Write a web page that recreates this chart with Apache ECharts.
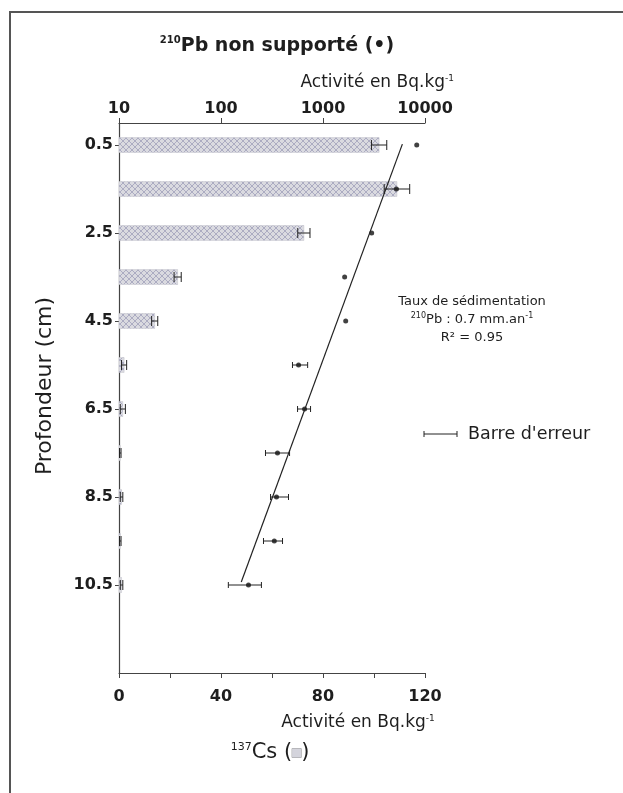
<!DOCTYPE html>
<html><head><meta charset="utf-8">
<script src="https://cdn.jsdelivr.net/npm/echarts@6/dist/echarts.min.js"></script>
<style>html,body{margin:0;padding:0;background:#fff}#c{width:623px;height:793px}</style>
</head><body><div id="c"></div>
<script>
// ---- data ----
const depths    = [0.5, 1.5, 2.5, 3.5, 4.5, 5.5, 6.5, 7.5, 8.5, 9.5, 10.5];
const csValues  = [102, 109, 72.5, 23, 14, 2, 1.5, 0.5, 1, 0.5, 1];
const csErrors  = [3, 5, 2.4, 1.4, 1.2, 1, 1, 0.3, 0.5, 0.3, 0.5];
const pbValues  = [8300, 5250, 3000, 1630, 1670, 576, 660, 358, 350, 333, 186];
const pbLow     = [null, null, null, null, null, 502, 563, 273, 306, 261, 118];
const pbHigh    = [null, null, null, null, null, 707, 755, 470, 459, 401, 249];
const regPb     = [6000, 158];
const regDepth  = [0.48, 10.43];
const depthTicks = [0.5, 2.5, 4.5, 6.5, 8.5, 10.5];
const csTicks    = [0, 40, 80, 120];
const pbTicks    = [10, 100, 1000, 10000];

const FONT = '"DejaVu Sans", "Liberation Sans", Arial, sans-serif';
const TXT = '#1e1e1e';

// hatch pattern
const pc = document.createElement('canvas');
pc.width = 6; pc.height = 6;
const g = pc.getContext('2d');
g.fillStyle = '#dadae0'; g.fillRect(0,0,6,6);
g.strokeStyle = '#a0a0ba'; g.lineWidth = 0.8;
g.beginPath(); g.moveTo(0,0); g.lineTo(6,6); g.moveTo(6,0); g.lineTo(0,6); g.stroke();
const pattern = {image: pc, repeat: 'repeat'};

const chart = echarts.init(document.getElementById('c'), null, {renderer: 'canvas'});

function makeErr(cap) {
  return function (params, api) {
    const y = api.value(2);
    const a = api.coord([api.value(0), y]);
    const b = api.coord([api.value(1), y]);
    const st = {stroke: '#222', lineWidth: 1};
    return {type: 'group', children: [
      {type:'line', shape:{x1:a[0], y1:a[1], x2:b[0], y2:b[1]}, style: st},
      {type:'line', shape:{x1:a[0], y1:a[1]-cap, x2:a[0], y2:a[1]+cap}, style: st},
      {type:'line', shape:{x1:b[0], y1:b[1]-cap, x2:b[0], y2:b[1]+cap}, style: st}
    ]};
  };
}

const axisLine = {show: true, onZero: false, lineStyle: {color: '#444', width: 1.2}};
const tickLabel = {fontFamily: FONT, fontSize: 16, color: TXT, fontWeight: 'bold'};

const pbErrData = [];
depths.forEach((d, i) => { if (pbLow[i] != null) pbErrData.push([pbLow[i], pbHigh[i], d]); });

const option = {
  animation: false,
  backgroundColor: '#fff',
  grid: {left: 119, right: 198, top: 123, bottom: 120, containLabel: false},
  xAxis: [
    {type: 'value', position: 'bottom', min: 0, max: 120, interval: 20,
     axisLine: axisLine, splitLine: {show: false},
     axisTick: {show: true, length: 5, lineStyle: {color: '#444'}},
     axisLabel: Object.assign({customValues: csTicks, margin: 16, formatter: v => String(v)}, tickLabel)},
    {type: 'log', logBase: 10, position: 'top', min: 10, max: 10000,
     axisLine: axisLine, splitLine: {show: false}, minorTick: {show: false},
     axisTick: {show: true, length: 5, lineStyle: {color: '#444'}},
     axisLabel: Object.assign({customValues: pbTicks, margin: 6, formatter: v => String(Math.round(v))}, tickLabel)}
  ],
  yAxis: {type: 'value', inverse: true, min: 0, max: 12.5,
    axisLine: axisLine, splitLine: {show: false},
    axisTick: {show: true, length: 4, customValues: depthTicks, lineStyle: {color: '#444'}},
    axisLabel: Object.assign({customValues: depthTicks, margin: 6, formatter: v => String(v)}, tickLabel)},
  series: [
    {type: 'custom', name: 'Cs', xAxisIndex: 0, yAxisIndex: 0,
     data: depths.map((d, i) => [csValues[i], d]),
     encode: {x: 0, y: 1},
     renderItem: function (params, api) {
       const p0 = api.coord([0, api.value(1)]);
       const p1 = api.coord([api.value(0), api.value(1)]);
       const h = api.size([0, 1])[1] * 0.34;
       return {type: 'rect', shape: {x: p0[0], y: p0[1] - h / 2, width: Math.max(p1[0] - p0[0], 1), height: h},
               style: {fill: pattern, stroke: '#c4c4cc', lineWidth: 0.5}};
     }},
    {type: 'custom', name: 'CsErr', xAxisIndex: 0, yAxisIndex: 0,
     data: depths.map((d, i) => [csValues[i] - csErrors[i], csValues[i] + csErrors[i], d]),
     encode: {x: [0, 1], y: 2}, renderItem: makeErr(5)},
    {type: 'custom', name: 'PbErr', xAxisIndex: 1, yAxisIndex: 0,
     data: pbErrData, encode: {x: [0, 1], y: 2}, renderItem: makeErr(3)},
    {type: 'line', name: 'Reg', xAxisIndex: 1, yAxisIndex: 0,
     data: regPb.map((v, i) => [v, regDepth[i]]), symbol: 'none',
     lineStyle: {color: '#222', width: 1.2}},
    {type: 'scatter', name: 'Pb', xAxisIndex: 1, yAxisIndex: 0,
     data: depths.map((d, i) => [pbValues[i], d]), symbol: 'circle', symbolSize: 5,
     itemStyle: {color: '#111'}}
  ],
  graphic: [
    {type: 'polyline', shape: {points: [[10, 793], [10, 12], [623, 12]]}, style: {stroke: '#555', lineWidth: 2, fill: null}},
    {type: 'text', x: 277, y: 46, style: {
      text: '{s|210}{m|Pb non supporté (•)}', align: 'center', verticalAlign: 'middle',
      rich: {s: {fontSize: 10, fontFamily: FONT, fontWeight: 'bold', fill: TXT, verticalAlign: 'top', lineHeight: 22},
             m: {fontSize: 19, fontFamily: FONT, fontWeight: 'bold', fill: TXT, lineHeight: 22}}}},
    {type: 'text', x: 454, y: 83, style: {
      text: '{m|Activité en Bq.kg}{s|-1}', align: 'right', verticalAlign: 'middle',
      rich: {s: {fontSize: 9, fontFamily: FONT, fill: TXT, verticalAlign: 'top', lineHeight: 18},
             m: {fontSize: 17, fontFamily: FONT, fill: TXT, lineHeight: 18}}}},
    {type: 'text', x: 358, y: 723, style: {
      text: '{m|Activité en Bq.kg}{s|-1}', align: 'center', verticalAlign: 'middle',
      rich: {s: {fontSize: 9, fontFamily: FONT, fill: TXT, verticalAlign: 'top', lineHeight: 18},
             m: {fontSize: 17, fontFamily: FONT, fill: TXT, lineHeight: 18}}}},
    {type: 'text', x: 270, y: 753, style: {
      text: '{s|137}{m|Cs (}{b|}{m|)}', align: 'center', verticalAlign: 'middle',
      rich: {s: {fontSize: 11, fontFamily: FONT, fill: TXT, verticalAlign: 'top', lineHeight: 23},
             m: {fontSize: 21, fontFamily: FONT, fill: TXT, lineHeight: 23},
             b: {width: 9, height: 9, backgroundColor: '#d4d4dc', borderColor: '#999', borderWidth: 0.5}}}},
    {type: 'text', x: 45, y: 386, rotation: Math.PI / 2, style: {
      text: 'Profondeur (cm)', align: 'center', verticalAlign: 'middle',
      font: '22px ' + FONT, fill: TXT}},
    {type: 'text', x: 472, y: 302, style: {text: 'Taux de sédimentation', align: 'center', verticalAlign: 'middle', font: '13px ' + FONT, fill: TXT}},
    {type: 'text', x: 472, y: 320, style: {
      text: '{s|210}{m|Pb : 0.7 mm.an}{s|-1}', align: 'center', verticalAlign: 'middle',
      rich: {s: {fontSize: 8, fontFamily: FONT, fill: TXT, verticalAlign: 'top', lineHeight: 16},
             m: {fontSize: 13, fontFamily: FONT, fill: TXT, lineHeight: 16}}}},
    {type: 'text', x: 472, y: 338, style: {text: 'R² = 0.95', align: 'center', verticalAlign: 'middle', font: '13px ' + FONT, fill: TXT}},
    {type: 'group', children: [
      {type: 'line', shape: {x1: 424, y1: 434, x2: 457, y2: 434}, style: {stroke: '#222', lineWidth: 1}},
      {type: 'line', shape: {x1: 424, y1: 431, x2: 424, y2: 437}, style: {stroke: '#222', lineWidth: 1}},
      {type: 'line', shape: {x1: 457, y1: 431, x2: 457, y2: 437}, style: {stroke: '#222', lineWidth: 1}}
    ]},
    {type: 'text', x: 468, y: 434, style: {text: "Barre d'erreur", align: 'left', verticalAlign: 'middle', font: '17.5px ' + FONT, fill: TXT}}
  ]
};
chart.setOption(option);
</script></body></html>
